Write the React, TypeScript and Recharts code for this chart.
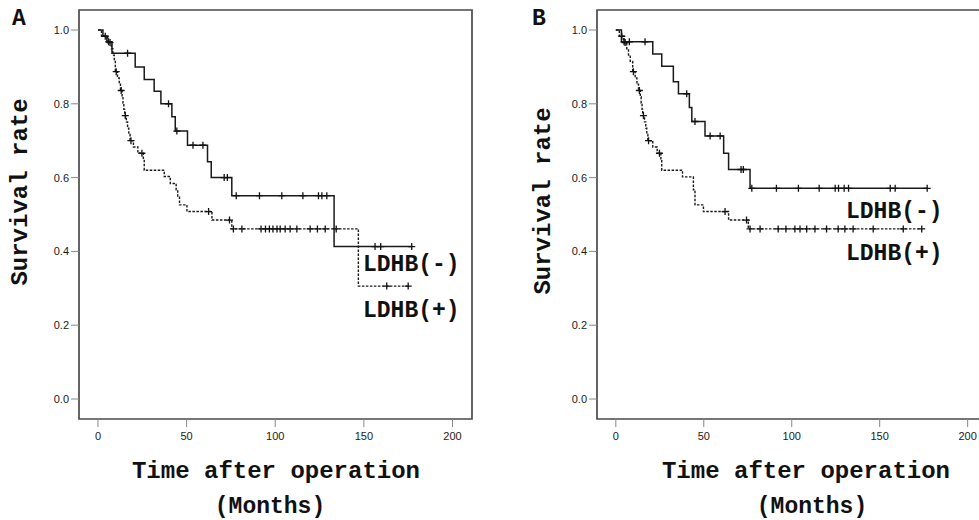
import React from 'react';
import { LineChart, Line, XAxis, YAxis, ReferenceArea } from 'recharts';

// [time (months), survival, censored (1) or event (0)]
const aNeg: number[][] = [
  [0, 1, 0], [2.8, 0.984, 0], [5, 0.968, 0], [6, 0.968, 1], [7.9, 0.937, 0], [16.7, 0.937, 1],
  [21, 0.9, 0], [26.1, 0.866, 0], [31.7, 0.834, 0], [35.5, 0.8, 0], [39.8, 0.8, 1], [41.7, 0.765, 0],
  [43.6, 0.726, 0], [44.5, 0.726, 1], [50.5, 0.688, 0], [53.6, 0.688, 1], [59.2, 0.688, 1],
  [61.8, 0.643, 0], [63.9, 0.6, 0], [71.2, 0.6, 1], [73, 0.6, 1], [75.5, 0.551, 0], [78, 0.551, 1],
  [91.1, 0.551, 1], [103.7, 0.551, 1], [115.6, 0.551, 1], [124.4, 0.551, 1], [126.3, 0.551, 1],
  [129.1, 0.551, 1], [133.2, 0.413, 0], [156.3, 0.413, 1], [159.5, 0.413, 1], [177, 0.413, 1],
];

const aPos: number[][] = [
  [0, 1, 0], [2, 0.983, 0], [4.1, 0.983, 1], [5.5, 0.966, 0], [6.8, 0.966, 1], [7.6, 0.949, 0],
  [8.4, 0.932, 0], [9.2, 0.915, 0], [9.8, 0.887, 0], [10.3, 0.887, 1], [11, 0.87, 0], [12, 0.853, 0],
  [12.7, 0.836, 0], [13.1, 0.836, 1], [13.6, 0.819, 0], [14.1, 0.802, 0], [14.6, 0.785, 0],
  [15.1, 0.768, 0], [15.4, 0.768, 1], [16, 0.751, 0], [16.7, 0.734, 0], [17.4, 0.717, 0],
  [18.1, 0.7, 0], [18.6, 0.7, 1], [20, 0.683, 0], [22.5, 0.666, 0], [24.8, 0.666, 1],
  [25.6, 0.649, 0], [26.1, 0.62, 0], [37.4, 0.603, 0], [40.8, 0.584, 0], [44.1, 0.567, 0],
  [45, 0.547, 0], [46, 0.526, 0], [50.2, 0.508, 0], [62.4, 0.508, 1], [64.3, 0.485, 0],
  [74.2, 0.485, 1], [75.5, 0.461, 0], [76.4, 0.461, 1], [81.2, 0.461, 1], [92, 0.461, 1],
  [94.5, 0.461, 1], [96.7, 0.461, 1], [98.7, 0.461, 1], [101, 0.461, 1], [102.8, 0.461, 1],
  [105.6, 0.461, 1], [108.4, 0.461, 1], [112.2, 0.461, 1], [119.7, 0.461, 1], [123.8, 0.461, 1],
  [128.2, 0.461, 1], [134.4, 0.461, 1], [146.9, 0.306, 0], [162.9, 0.306, 1], [175, 0.306, 1],
];

const bNeg: number[][] = [
  [0, 1, 0], [3.2, 0.968, 0], [4.7, 0.968, 1], [7.7, 0.968, 1], [16.6, 0.968, 1], [21, 0.935, 0],
  [26.1, 0.902, 0], [32.7, 0.86, 0], [35.6, 0.827, 0], [40.3, 0.827, 1], [41.8, 0.79, 0],
  [43.2, 0.752, 0], [45, 0.752, 1], [50.7, 0.713, 0], [53.6, 0.713, 1], [59.3, 0.713, 1],
  [61.3, 0.666, 0], [64.1, 0.622, 0], [71.2, 0.622, 1], [72.5, 0.622, 1], [76.3, 0.571, 0],
  [77.3, 0.571, 1], [91.3, 0.571, 1], [103.8, 0.571, 1], [115.6, 0.571, 1], [124.7, 0.571, 1],
  [126.6, 0.571, 1], [129.8, 0.571, 1], [132.3, 0.571, 1], [156, 0.571, 1], [158.8, 0.571, 1],
  [177, 0.571, 1],
];

const bPos: number[][] = [
  [0, 1, 0], [2, 0.983, 0], [3.4, 0.983, 1], [4.5, 0.966, 0], [5.3, 0.966, 1], [6.2, 0.949, 0],
  [7.2, 0.932, 0], [8.2, 0.915, 0], [9.6, 0.887, 0], [10, 0.887, 1], [11, 0.87, 0], [12, 0.853, 0],
  [12.9, 0.836, 0], [13.4, 0.836, 1], [13.9, 0.819, 0], [14.4, 0.802, 0], [14.9, 0.785, 0],
  [15.3, 0.768, 0], [15.7, 0.768, 1], [16.3, 0.751, 0], [17, 0.734, 0], [17.6, 0.717, 0],
  [18.2, 0.7, 0], [18.6, 0.7, 1], [21, 0.683, 0], [23.5, 0.666, 0], [24.8, 0.666, 1],
  [25.6, 0.649, 0], [26.1, 0.62, 0], [37.9, 0.602, 0], [44.1, 0.567, 0], [45, 0.526, 0],
  [49.8, 0.508, 0], [62.1, 0.508, 1], [64.1, 0.485, 0], [74.3, 0.485, 1], [75.3, 0.461, 0],
  [76.3, 0.461, 1], [82, 0.461, 1], [92.3, 0.461, 1], [96.7, 0.461, 1], [101.8, 0.461, 1],
  [104.7, 0.461, 1], [108.5, 0.461, 1], [113.2, 0.461, 1], [119.8, 0.461, 1], [126.4, 0.461, 1],
  [130.2, 0.461, 1], [134.9, 0.461, 1], [146.3, 0.461, 1], [163.4, 0.461, 1], [173.9, 0.461, 1],
];

const xTicks = [0, 50, 100, 150, 200];
const yTicks = [0, 0.2, 0.4, 0.6, 0.8, 1.0];
const xDomain: [number, number] = [-10.7, 211];
const yDomain: [number, number] = [-0.0542, 1.0542];

const toRows = (arr: number[][]) => arr.map(([t, s, c]) => ({ t, s, c }));

const mono = '"Liberation Mono", "Courier New", monospace';
const sans = '"Liberation Sans", Arial, sans-serif';

// "+" censor mark, only on censored observations
const censorMark = (props: any) => {
  const { cx, cy, payload, index } = props;
  if (!payload || !payload.c || cx == null) return <g key={`n-${index}`} />;
  return (
    <path
      key={`c-${index}`}
      d={`M${cx - 3.5},${cy}h7M${cx},${cy - 3.5}v7`}
      stroke="#111"
      strokeWidth={1.3}
      strokeDasharray="none"
      fill="none"
    />
  );
};

interface PanelProps {
  neg: number[][];
  pos: number[][];
  width: number;
  left: number;
  right: number;
  letter: string;
  letterX: number;
  yTitleX: number;
  yTitleY: number;
  xTitleX: number;
  monthsX: number;
  tagX: number;
  negTagY: number;
  posTagY: number;
}

const Panel = (p: PanelProps) => (
  <LineChart width={p.width} height={520} margin={{ top: 10, right: p.right, bottom: 61, left: p.left }}>
    <ReferenceArea
      x1={xDomain[0]}
      x2={xDomain[1]}
      y1={yDomain[0]}
      y2={yDomain[1]}
      fill="none"
      stroke="#4a4a4a"
      strokeWidth={1.7}
      ifOverflow="visible"
    />
    <XAxis
      type="number"
      dataKey="t"
      domain={xDomain}
      ticks={xTicks}
      allowDataOverflow
      axisLine={false}
      tickLine={{ stroke: '#888' }}
      tickSize={8}
      tickMargin={5}
      height={40}
      tick={{ fontSize: 11, fill: '#1a1a1a', fontFamily: sans }}
    />
    <YAxis
      type="number"
      domain={yDomain}
      ticks={yTicks}
      allowDataOverflow
      axisLine={false}
      tickLine={{ stroke: '#888' }}
      tickSize={8}
      tickMargin={2}
      width={60}
      tickFormatter={(v: number) => v.toFixed(1)}
      tick={{ fontSize: 11, fill: '#1a1a1a', fontFamily: sans }}
    />
    <Line
      data={toRows(p.neg)}
      dataKey="s"
      type="stepAfter"
      stroke="#1a1a1a"
      strokeWidth={1.5}
      dot={censorMark}
      activeDot={false}
      isAnimationActive={false}
    />
    <Line
      data={toRows(p.pos)}
      dataKey="s"
      type="stepAfter"
      stroke="#1a1a1a"
      strokeWidth={1.4}
      strokeDasharray="2.5 1.5"
      dot={censorMark}
      activeDot={false}
      isAnimationActive={false}
    />
    <text x={p.letterX} y={25} fontFamily={mono} fontWeight="bold" fontSize={23} fill="#111">
      {p.letter}
    </text>
    <text
      x={p.yTitleX}
      y={p.yTitleY}
      transform={`rotate(-90 ${p.yTitleX} ${p.yTitleY})`}
      textAnchor="middle"
      fontFamily={mono}
      fontWeight="bold"
      fontSize={24}
      fill="#111"
    >
      Survival rate
    </text>
    <text x={p.xTitleX} y={478} textAnchor="middle" fontFamily={mono} fontWeight="bold" fontSize={24} fill="#111">
      Time after operation
    </text>
    <text x={p.monthsX} y={513} textAnchor="middle" fontFamily={mono} fontWeight="bold" fontSize={23} fill="#111">
      (Months)
    </text>
    <text x={p.tagX} y={p.negTagY} fontFamily={mono} fontWeight="bold" fontSize={23} fill="#111">
      LDHB(-)
    </text>
    <text x={p.tagX} y={p.posTagY} fontFamily={mono} fontWeight="bold" fontSize={23} fill="#111">
      LDHB(+)
    </text>
  </LineChart>
);

export default function App() {
  return (
    <div
      style={{
        position: 'fixed',
        left: 0,
        top: 0,
        width: 979,
        height: 520,
        overflow: 'hidden',
        background: '#fff',
      }}
    >
      <div style={{ position: 'absolute', left: 0, top: 0 }}>
        <Panel
          neg={aNeg}
          pos={aPos}
          width={490}
          left={19}
          right={18}
          letter="A"
          letterX={12}
          yTitleX={27}
          yTitleY={192}
          xTitleX={276}
          monthsX={270}
          tagX={363}
          negTagY={271}
          posTagY={317}
        />
      </div>
      <div style={{ position: 'absolute', left: 490, top: 0 }}>
        <Panel
          neg={bNeg}
          pos={bPos}
          width={510}
          left={47}
          right={13}
          letter="B"
          letterX={42}
          yTitleX={60}
          yTitleY={201}
          xTitleX={316}
          monthsX={322}
          tagX={356}
          negTagY={218}
          posTagY={260}
        />
      </div>
    </div>
  );
}
